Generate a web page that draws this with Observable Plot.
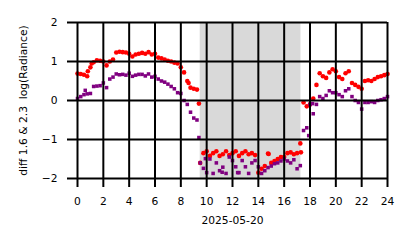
<!DOCTYPE html>
<html>
<head>
<meta charset="utf-8">
<script src="https://cdn.jsdelivr.net/npm/d3@7"></script>
<script src="https://cdn.jsdelivr.net/npm/@observablehq/plot@0.6"></script>
<style>
  html, body { margin: 0; padding: 0; background: #fff; }
  svg { font-family: "DejaVu Sans", sans-serif; }
</style>
</head>
<body>
<div id="chart"></div>
<script>
// hours of day, 15-minute steps
const hours = d3.range(0, 24.001, 0.25);

const red = [
  0.69, 0.68, 0.66, 0.62, 0.85, 0.98, 1.03, 1.02, 1.00, 0.90, 1.00, 1.05,
  1.23, 1.25, 1.24, 1.23, 1.20, 1.13, 1.18, 1.20, 1.22, 1.20, 1.24, 1.18,
  1.20, 1.10, 1.08, 1.05, 1.02, 1.00, 0.97, 0.95, 0.85, 0.72, 0.50, 0.33,
  0.30, 0.28, -1.60, -1.35, -1.30, -1.42, -1.35, -1.30, -1.42, -1.38, -1.30, -1.40,
  -1.35, -1.30, -1.42, -1.35, -1.30, -1.38, -1.35, -1.40, -1.85, -1.75, -1.68, -1.36,
  -1.60, -1.55, -1.50, -1.45, -1.45, -1.35, -1.33, -1.38, -1.35, -1.10, -0.05, -0.15,
  -0.10, 0.05, 0.40, 0.70, 0.62, 0.58, 0.72, 0.80, 0.75, 0.60, 0.55, 0.70,
  0.75, 0.45, 0.40, 0.35, 0.30, 0.50, 0.52, 0.50, 0.55, 0.60, 0.62, 0.65,
  0.68
];

const purple = [
  0.05, 0.10, 0.15, 0.17, 0.18, 0.36, 0.37, 0.38, 0.45, 0.33, 0.55, 0.60,
  0.68, 0.66, 0.67, 0.65, 0.70, 0.62, 0.65, 0.67, 0.67, 0.63, 0.68, 0.60,
  0.62, 0.55, 0.50, 0.47, 0.42, 0.36, 0.30, 0.20, 0.18, 0.00, -0.10, -0.30,
  -0.45, -0.50, -1.60, -1.74, -1.85, -1.50, -1.87, -1.60, -1.80, -1.71, -1.87, -1.45,
  -1.54, -1.70, -1.85, -1.54, -1.70, -1.87, -1.60, -1.54, -1.70, -1.87, -1.80, -1.72,
  -1.68, -1.62, -1.60, -1.55, -1.50, -1.55, -1.60, -1.52, -1.75, -1.67, -0.77, -0.70,
  -0.10, -0.34, -0.10, 0.10, 0.05, 0.13, 0.25, 0.20, 0.20, 0.15, 0.10, 0.25,
  0.30, 0.10, 0.00, -0.05, -0.22, -0.05, -0.05, -0.03, -0.05, 0.00, 0.02, 0.05,
  0.10
];

// extra scattered readings
const extraRedHours = [0.8, 1.1, 8.6, 9.4, 14.8, 17.3];
const extraRed = [0.75, 0.95, 0.45, -0.08, -1.37, -1.33];
const extraPurpleHours = [0.6, 9.4, 9.9, 11.2, 12.4, 17.9, 18.2];
const extraPurple = [0.26, -0.95, -1.49, -1.84, -1.85, -0.90, -0.08];

const shadeStart = [9.5];
const shadeEnd = [17.3];

const xTicks = d3.range(0, 25, 2);
const yTicks = [-2, -1, 0, 1, 2];
const xLabel = "2025-05-20";
const yLabel = "diff 1.6 & 2.3  log(Radiance)";

const redData = hours.map((h, i) => ({h, v: red[i]}))
  .concat(extraRedHours.map((h, i) => ({h, v: extraRed[i]})));
const purpleData = hours.map((h, i) => ({h, v: purple[i]}))
  .concat(extraPurpleHours.map((h, i) => ({h, v: extraPurple[i]})));
const shade = shadeStart.map((s, i) => ({x1: s, x2: shadeEnd[i]}));

const fmt = d => d < 0 ? "\u2212" + Math.abs(d) : String(d);

const chart = Plot.plot({
  width: 414,
  height: 248,
  marginLeft: 77,
  marginRight: 27,
  marginTop: 22,
  marginBottom: 70,
  style: {fontFamily: "DejaVu Sans, sans-serif", fontSize: "10.7px", color: "#000", background: "#fff"},
  x: {domain: [0, 24], axis: null},
  y: {domain: [-2, 2], axis: null},
  marks: [
    Plot.rect(shade, {x1: "x1", x2: "x2", fill: "#d9d9d9"}),
    Plot.dot(redData, {x: "h", y: "v", r: 2.3, fill: "#ff0000", stroke: "none"}),
    Plot.dot(purpleData, {x: "h", y: "v", r: 2.0, symbol: "square", fill: "#800080", stroke: "none"}),
    Plot.ruleX(xTicks, {x: d => d, stroke: "#000", strokeWidth: 2, insetBottom: -9}),
    Plot.ruleY(yTicks, {y: d => d, stroke: "#000", strokeWidth: 2, insetLeft: -10}),
    Plot.axisX(xTicks, {tickSize: 0, tickPadding: 19, tickFormat: fmt, fontSize: 10.7, fill: "#000", label: null}),
    Plot.axisY(yTicks, {tickSize: 0, tickPadding: 20, tickFormat: fmt, fontSize: 10.7, fill: "#000", label: null}),
    Plot.text([xLabel], {frameAnchor: "bottom", dy: 45, text: d => d, fontSize: 10.7, fill: "#000"}),
    Plot.text([yLabel], {frameAnchor: "left", dx: -54, rotate: -90, textAnchor: "middle", text: d => d, fontSize: 10.7, fill: "#000"})
  ]
});

document.getElementById("chart").appendChild(chart);
</script>
</body>
</html>
